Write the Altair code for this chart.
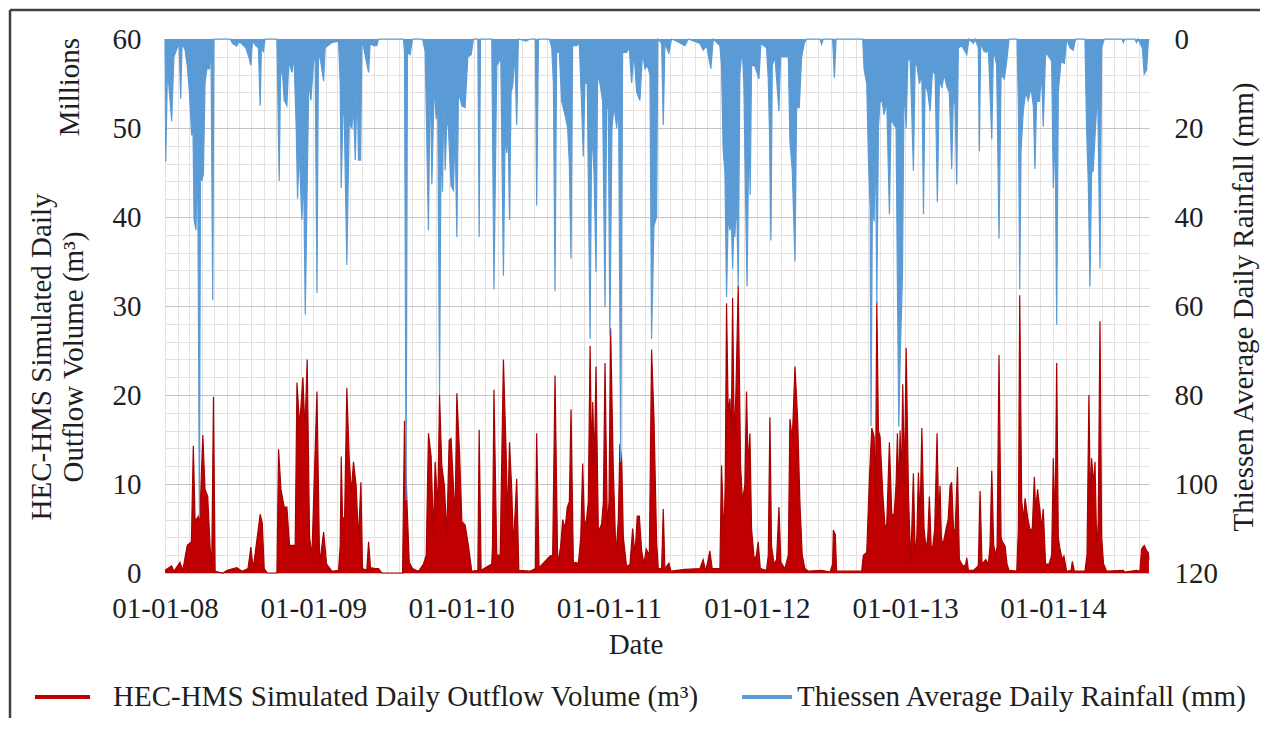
import altair as alt
import pandas as pd
from datetime import datetime

# ---------------- data ----------------
# time positions are decimal years
flow_t = [2008.000, 2008.045, 2008.060, 2008.101, 2008.120, 2008.150, 2008.178, 2008.191, 2008.203, 2008.218,
          2008.236, 2008.255, 2008.270, 2008.288, 2008.304, 2008.315, 2008.327, 2008.338, 2008.390, 2008.420,
          2008.484, 2008.520, 2008.560, 2008.579, 2008.595, 2008.642, 2008.656, 2008.669, 2008.690, 2008.755,
          2008.766, 2008.782, 2008.804, 2008.822, 2008.840, 2008.856, 2008.878, 2008.890, 2008.908, 2008.930,
          2008.944, 2008.959, 2008.975, 2008.991, 2009.025, 2009.043, 2009.070, 2009.090, 2009.126, 2009.171,
          2009.182, 2009.189, 2009.198, 2009.212, 2009.227, 2009.243, 2009.257, 2009.272, 2009.290, 2009.306,
          2009.322, 2009.333, 2009.362, 2009.374, 2009.387, 2009.419, 2009.441, 2009.464, 2009.604, 2009.617,
          2009.633, 2009.649, 2009.671, 2009.712, 2009.745, 2009.764, 2009.779, 2009.797, 2009.813, 2009.824,
          2009.842, 2009.854, 2009.869, 2009.887, 2009.903, 2009.919, 2009.932, 2009.948, 2009.959, 2009.971,
          2009.989, 2010.005, 2010.027, 2010.050, 2010.072, 2010.113, 2010.122, 2010.135, 2010.207, 2010.212,
          2010.222, 2010.241, 2010.264, 2010.286, 2010.304, 2010.315, 2010.327, 2010.342, 2010.354, 2010.376,
          2010.390, 2010.466, 2010.502, 2010.511, 2010.527, 2010.601, 2010.619, 2010.635, 2010.653, 2010.673,
          2010.687, 2010.703, 2010.718, 2010.732, 2010.743, 2010.759, 2010.793, 2010.809, 2010.822, 2010.833,
          2010.844, 2010.860, 2010.872, 2010.883, 2010.890, 2010.901, 2010.912, 2010.928, 2010.950, 2010.962,
          2010.973, 2010.989, 2011.000, 2011.011, 2011.029, 2011.047, 2011.063, 2011.074, 2011.086, 2011.097,
          2011.119, 2011.142, 2011.160, 2011.176, 2011.191, 2011.205, 2011.221, 2011.236, 2011.252, 2011.273,
          2011.288, 2011.304, 2011.322, 2011.333, 2011.356, 2011.367, 2011.378, 2011.405, 2011.419, 2011.514,
          2011.615, 2011.637, 2011.653, 2011.671, 2011.682, 2011.698, 2011.750, 2011.761, 2011.777, 2011.786,
          2011.795, 2011.806, 2011.818, 2011.827, 2011.836, 2011.847, 2011.858, 2011.874, 2011.890, 2011.903,
          2011.919, 2011.930, 2011.941, 2011.953, 2011.964, 2011.982, 2011.997, 2012.009, 2012.023, 2012.065,
          2012.077, 2012.088, 2012.099, 2012.117, 2012.133, 2012.149, 2012.162, 2012.189, 2012.212, 2012.223,
          2012.239, 2012.257, 2012.275, 2012.291, 2012.306, 2012.324, 2012.347, 2012.437, 2012.493, 2012.511,
          2012.516, 2012.529, 2012.538, 2012.707, 2012.718, 2012.741, 2012.759, 2012.775, 2012.791, 2012.800,
          2012.809, 2012.820, 2012.831, 2012.849, 2012.865, 2012.876, 2012.894, 2012.910, 2012.926, 2012.939,
          2012.948, 2012.957, 2012.966, 2012.975, 2012.984, 2012.995, 2013.007, 2013.023, 2013.038, 2013.056,
          2013.068, 2013.079, 2013.090, 2013.101, 2013.113, 2013.128, 2013.142, 2013.153, 2013.164, 2013.176,
          2013.185, 2013.200, 2013.216, 2013.227, 2013.236, 2013.245, 2013.255, 2013.266, 2013.277, 2013.291,
          2013.304, 2013.315, 2013.327, 2013.338, 2013.354, 2013.367, 2013.394, 2013.410, 2013.417, 2013.428,
          2013.462, 2013.495, 2013.507, 2013.520, 2013.545, 2013.563, 2013.574, 2013.586, 2013.599, 2013.613,
          2013.622, 2013.635, 2013.649, 2013.658, 2013.676, 2013.689, 2013.703, 2013.755, 2013.766, 2013.775,
          2013.788, 2013.802, 2013.811, 2013.829, 2013.845, 2013.860, 2013.874, 2013.883, 2013.896, 2013.912,
          2013.923, 2013.934, 2013.950, 2013.973, 2013.991, 2014.002, 2014.014, 2014.025, 2014.036, 2014.047,
          2014.063, 2014.074, 2014.092, 2014.122, 2014.131, 2014.144, 2014.216, 2014.230, 2014.243, 2014.252,
          2014.261, 2014.275, 2014.284, 2014.297, 2014.306, 2014.318, 2014.329, 2014.342, 2014.363, 2014.475,
          2014.486, 2014.565, 2014.588, 2014.599, 2014.617, 2014.633, 2014.644, 2014.649]
flow_v = [0.3, 0.8, 0.2, 1.2, 0.3, 3.1, 3.5, 14.3, 5.8, 6.2,
          6.6, 15.5, 9.4, 8.6, 3.0, 0.5, 19.8, 0.2, 0.0, 0.3,
          0.6, 0.2, 0.5, 2.9, 0.5, 6.6, 5.6, 0.5, 0.0, 0.0,
          13.9, 9.4, 7.4, 7.4, 3.1, 3.1, 3.1, 21.4, 16.5, 22.0,
          16.0, 24.0, 4.0, 2.0, 20.4, 1.0, 4.6, 1.0, 0.2, 0.3,
          3.0, 13.1, 6.2, 6.2, 20.8, 12.9, 9.0, 12.5, 9.8, 3.8,
          10.2, 0.5, 0.3, 3.5, 0.6, 0.5, 0.5, 0.0, 0.0, 17.1,
          8.2, 1.2, 0.5, 0.2, 1.0, 2.0, 15.7, 13.1, 4.3, 12.5,
          7.4, 20.0, 12.1, 9.8, 4.3, 14.9, 15.1, 9.8, 6.0, 20.2,
          13.5, 5.8, 5.4, 3.0, 0.2, 0.3, 16.1, 0.3, 1.0, 3.0,
          20.6, 2.0, 2.0, 24.0, 13.7, 6.0, 14.7, 9.4, 3.0, 10.6,
          0.3, 0.2, 0.5, 15.7, 0.6, 1.9, 2.0, 22.2, 1.0, 3.0,
          6.0, 5.0, 7.4, 8.0, 18.4, 1.2, 1.1, 4.0, 12.3, 6.0,
          5.4, 8.0, 25.5, 12.0, 19.2, 12.0, 23.2, 4.6, 5.5, 8.0,
          23.6, 5.0, 8.0, 27.5, 11.7, 2.0, 6.0, 14.5, 12.5, 4.0,
          0.7, 1.0, 5.0, 2.0, 6.4, 6.4, 2.5, 1.0, 2.7, 2.0,
          25.1, 17.5, 3.5, 0.5, 0.5, 7.2, 0.5, 1.1, 0.2, 0.4,
          0.5, 1.5, 0.2, 1.5, 2.5, 0.5, 0.5, 12.1, 4.0, 10.0,
          30.3, 18.0, 19.6, 15.0, 30.9, 15.0, 20.0, 32.3, 12.0, 8.0,
          10.0, 20.4, 12.0, 15.7, 5.0, 1.5, 2.0, 3.5, 0.5, 0.3,
          2.0, 17.5, 3.0, 1.0, 1.5, 7.4, 1.2, 0.5, 2.0, 17.3,
          15.0, 23.2, 17.3, 7.6, 2.0, 0.5, 0.2, 0.3, 0.1, 1.0,
          4.8, 4.3, 0.2, 0.2, 2.0, 2.3, 10.6, 16.3, 15.3, 8.0,
          30.5, 16.0, 15.3, 9.0, 5.0, 5.5, 14.7, 6.6, 6.6, 10.0,
          15.7, 9.0, 16.0, 10.0, 21.2, 10.0, 25.3, 8.6, 1.0, 11.2,
          2.0, 4.0, 11.3, 6.0, 16.3, 5.0, 2.7, 4.0, 8.6, 3.0,
          2.7, 5.0, 15.7, 6.0, 9.8, 4.0, 3.1, 4.0, 5.0, 6.0,
          9.8, 10.2, 5.0, 4.6, 11.9, 1.5, 0.7, 1.0, 1.7, 0.3,
          0.3, 0.8, 9.2, 1.0, 1.5, 1.0, 3.0, 11.5, 3.1, 2.0,
          3.0, 24.5, 4.0, 3.5, 3.0, 1.0, 0.3, 0.2, 5.0, 31.2,
          8.2, 6.0, 8.4, 6.2, 4.8, 5.0, 10.8, 7.0, 9.4, 7.0,
          5.0, 7.2, 1.0, 1.0, 2.0, 12.9, 5.0, 23.6, 4.0, 2.7,
          1.5, 1.9, 0.2, 0.3, 1.3, 0.2, 0.2, 2.0, 20.0, 8.0,
          12.9, 10.0, 12.5, 2.0, 6.0, 28.3, 4.0, 1.0, 0.2, 0.3,
          0.1, 0.3, 0.2, 2.7, 3.1, 2.5, 2.3, 1.5]

rain_t = [2008.000, 2008.005, 2008.016, 2008.025, 2008.045, 2008.060, 2008.083, 2008.095, 2008.106, 2008.115,
          2008.135, 2008.150, 2008.165, 2008.180, 2008.188, 2008.196, 2008.209, 2008.220, 2008.232, 2008.240,
          2008.248, 2008.259, 2008.270, 2008.282, 2008.300, 2008.310, 2008.322, 2008.330, 2008.440, 2008.455,
          2008.484, 2008.500, 2008.545, 2008.565, 2008.579, 2008.590, 2008.615, 2008.630, 2008.642, 2008.650,
          2008.664, 2008.675, 2008.755, 2008.770, 2008.780, 2008.795, 2008.804, 2008.822, 2008.835, 2008.856,
          2008.870, 2008.885, 2008.894, 2008.905, 2008.923, 2008.935, 2008.946, 2008.957, 2008.970, 2008.984,
          2009.000, 2009.012, 2009.025, 2009.035, 2009.050, 2009.070, 2009.080, 2009.126, 2009.171, 2009.182,
          2009.189, 2009.200, 2009.209, 2009.227, 2009.243, 2009.261, 2009.272, 2009.284, 2009.297, 2009.306,
          2009.320, 2009.329, 2009.374, 2009.385, 2009.407, 2009.430, 2009.441, 2009.610, 2009.617, 2009.628,
          2009.637, 2009.655, 2009.671, 2009.739, 2009.757, 2009.779, 2009.791, 2009.802, 2009.818, 2009.831,
          2009.842, 2009.854, 2009.865, 2009.874, 2009.883, 2009.892, 2009.903, 2009.914, 2009.932, 2009.948,
          2009.959, 2009.971, 2009.982, 2010.005, 2010.027, 2010.045, 2010.068, 2010.083, 2010.113, 2010.122,
          2010.131, 2010.207, 2010.222, 2010.241, 2010.252, 2010.268, 2010.286, 2010.297, 2010.309, 2010.318,
          2010.327, 2010.338, 2010.349, 2010.363, 2010.376, 2010.387, 2010.439, 2010.466, 2010.502, 2010.511,
          2010.523, 2010.597, 2010.613, 2010.624, 2010.635, 2010.646, 2010.664, 2010.680, 2010.691, 2010.709,
          2010.720, 2010.732, 2010.743, 2010.754, 2010.781, 2010.799, 2010.815, 2010.826, 2010.837, 2010.853,
          2010.872, 2010.883, 2010.899, 2010.912, 2010.923, 2010.939, 2010.957, 2010.973, 2010.984, 2010.995,
          2011.006, 2011.020, 2011.034, 2011.052, 2011.065, 2011.079, 2011.092, 2011.119, 2011.137, 2011.153,
          2011.169, 2011.187, 2011.209, 2011.227, 2011.243, 2011.259, 2011.277, 2011.288, 2011.304, 2011.322,
          2011.330, 2011.356, 2011.367, 2011.378, 2011.405, 2011.423, 2011.457, 2011.514, 2011.536, 2011.615,
          2011.637, 2011.660, 2011.689, 2011.705, 2011.750, 2011.761, 2011.772, 2011.784, 2011.795, 2011.806,
          2011.818, 2011.827, 2011.836, 2011.845, 2011.851, 2011.863, 2011.874, 2011.885, 2011.901, 2011.912,
          2011.923, 2011.934, 2011.946, 2011.955, 2011.964, 2011.986, 2012.014, 2012.027, 2012.065, 2012.077,
          2012.086, 2012.095, 2012.104, 2012.122, 2012.149, 2012.160, 2012.189, 2012.212, 2012.223, 2012.239,
          2012.257, 2012.268, 2012.286, 2012.302, 2012.320, 2012.335, 2012.425, 2012.437, 2012.448, 2012.511,
          2012.523, 2012.534, 2012.714, 2012.723, 2012.741, 2012.752, 2012.764, 2012.770, 2012.779, 2012.791,
          2012.800, 2012.809, 2012.820, 2012.831, 2012.845, 2012.858, 2012.876, 2012.894, 2012.905, 2012.926,
          2012.939, 2012.948, 2012.957, 2012.968, 2012.982, 2012.993, 2013.007, 2013.018, 2013.034, 2013.056,
          2013.068, 2013.079, 2013.097, 2013.113, 2013.124, 2013.135, 2013.153, 2013.169, 2013.185, 2013.203,
          2013.218, 2013.232, 2013.248, 2013.264, 2013.281, 2013.299, 2013.315, 2013.327, 2013.338, 2013.349,
          2013.360, 2013.383, 2013.417, 2013.432, 2013.462, 2013.473, 2013.495, 2013.502, 2013.511, 2013.534,
          2013.552, 2013.563, 2013.586, 2013.597, 2013.619, 2013.635, 2013.649, 2013.671, 2013.687, 2013.703,
          2013.757, 2013.766, 2013.775, 2013.784, 2013.799, 2013.815, 2013.833, 2013.851, 2013.867, 2013.878,
          2013.889, 2013.907, 2013.923, 2013.934, 2013.950, 2013.973, 2013.991, 2014.002, 2014.014, 2014.025,
          2014.036, 2014.054, 2014.077, 2014.093, 2014.115, 2014.137, 2014.153, 2014.216, 2014.227, 2014.239,
          2014.250, 2014.261, 2014.272, 2014.284, 2014.302, 2014.318, 2014.329, 2014.347, 2014.468, 2014.475,
          2014.486, 2014.554, 2014.565, 2014.576, 2014.604, 2014.617, 2014.633, 2014.644, 2014.649]
rain_v = [0.0, 27.6, 8.0, 10.0, 18.5, 4.0, 2.0, 1.0, 13.4, 1.0,
          2.4, 6.0, 12.0, 21.7, 18.0, 40.6, 42.9, 25.0, 107.6, 25.0,
          31.9, 30.3, 10.0, 6.7, 6.7, 1.0, 58.7, 0.0, 0.0, 1.0,
          1.6, 0.5, 2.0, 4.0, 5.9, 0.5, 1.6, 2.0, 15.0, 2.0,
          2.8, 0.0, 0.0, 31.9, 6.0, 9.0, 13.8, 15.0, 5.0, 7.5,
          4.0, 20.0, 35.9, 25.0, 40.6, 30.0, 61.9, 37.4, 9.0, 13.8,
          6.0, 2.0, 57.1, 3.0, 5.0, 9.5, 2.0, 0.8, 0.5, 10.0,
          33.5, 17.0, 16.5, 50.8, 19.0, 20.0, 15.0, 27.2, 10.0, 27.2,
          27.2, 0.0, 7.5, 1.0, 1.5, 1.5, 0.0, 0.0, 3.0, 103.6,
          3.0, 3.5, 0.0, 0.0, 2.8, 43.0, 6.0, 32.7, 10.0, 18.0,
          15.0, 80.0, 20.0, 34.3, 12.0, 29.5, 18.0, 20.0, 33.0, 34.0,
          20.0, 44.5, 12.0, 15.0, 15.4, 4.0, 3.5, 0.0, 0.0, 44.5,
          0.0, 0.0, 56.3, 6.0, 5.5, 4.0, 53.2, 22.0, 25.6, 20.0,
          40.6, 12.0, 10.6, 3.0, 19.3, 0.0, 0.5, 0.0, 0.0, 37.4,
          0.0, 0.0, 2.0, 10.0, 56.7, 3.0, 3.0, 14.0, 15.5, 18.0,
          20.0, 28.0, 49.3, 1.5, 1.5, 1.0, 15.0, 26.4, 10.0, 10.0,
          67.4, 20.0, 30.0, 52.4, 8.0, 10.0, 14.0, 60.3, 15.0, 15.8,
          66.6, 20.0, 15.0, 20.0, 15.0, 95.0, 3.0, 3.0, 2.0, 9.9,
          3.0, 12.0, 13.8, 3.0, 6.7, 6.0, 8.0, 67.4, 42.0, 40.0,
          0.0, 1.0, 19.3, 1.0, 3.2, 0.0, 0.5, 1.5, 0.0, 1.0,
          2.5, 1.5, 6.7, 0.0, 1.5, 6.0, 24.8, 30.0, 58.0, 40.0,
          43.0, 40.0, 51.6, 42.0, 44.5, 35.9, 55.6, 8.0, 2.0, 10.0,
          35.0, 55.6, 20.0, 35.0, 6.0, 6.0, 9.0, 1.0, 2.0, 9.0,
          22.0, 45.3, 6.0, 4.0, 16.2, 4.0, 4.0, 4.0, 23.0, 29.6,
          50.0, 15.4, 15.4, 4.0, 1.0, 0.0, 0.0, 1.2, 0.0, 0.0,
          8.7, 0.0, 0.0, 6.7, 10.0, 26.4, 38.0, 87.0, 38.0, 41.0,
          20.0, 59.5, 20.0, 14.0, 14.0, 17.0, 14.0, 39.4, 18.0, 19.3,
          20.0, 55.0, 87.1, 70.0, 53.2, 10.0, 20.0, 5.0, 4.3, 29.6,
          5.0, 5.9, 10.0, 8.0, 39.4, 10.0, 12.0, 16.2, 7.0, 8.0,
          36.6, 9.0, 11.0, 8.0, 10.6, 12.0, 29.2, 12.0, 15.0, 32.7,
          2.0, 1.5, 3.5, 0.0, 1.0, 0.0, 2.0, 25.2, 1.0, 2.8,
          3.0, 2.0, 22.5, 2.0, 6.0, 44.9, 8.0, 9.0, 5.0, 0.0,
          0.0, 15.0, 56.3, 25.0, 16.2, 12.0, 13.8, 11.0, 15.0, 29.2,
          14.0, 14.0, 8.0, 19.7, 3.0, 4.0, 5.0, 33.5, 20.0, 64.2,
          12.0, 5.0, 5.5, 0.0, 2.0, 2.5, 0.0, 0.0, 20.0, 32.7,
          55.6, 30.0, 29.6, 22.0, 11.4, 51.6, 2.0, 0.0, 0.0, 0.8,
          0.0, 0.0, 0.8, 0.0, 2.0, 7.9, 7.0, 1.0, 0.0]

flow_y_ticks = list(range(0, 61, 2))
rain_y_ticks = [0, 20, 40, 60, 80, 100, 120]

flow_name = "HEC-HMS Simulated Daily Outflow Volume (m³)"
rain_name = "Thiessen Average Daily Rainfall (mm)"
left_title = ["HEC-HMS Simulated Daily", "Outflow Volume (m³)"]


def to_iso(t):
    y = int(t)
    a = datetime(y, 1, 1)
    b = datetime(y + 1, 1, 1)
    return (a + (b - a) * (t - y)).strftime("%Y-%m-%dT%H:%M:%SZ")


flow_df = pd.DataFrame({"date": [to_iso(t) for t in flow_t], "flow": flow_v})
rain_df = pd.DataFrame({"date": [to_iso(t) for t in rain_t], "rain": rain_v})

FONT = "Liberation Serif, Times New Roman, DejaVu Serif, serif"
FS = 29
TXT = "#1e1e1e"
RED = "#C00000"
BLUE = "#5B9BD5"
MINOR = "#e6e1e1"
MAJOR = "#c4c4c4"

x_enc = alt.X(
    "date:T",
    scale=alt.Scale(
        type="utc",
        domain=[alt.DateTime(year=2008, month=1, date=1, utc=True),
                alt.DateTime(year=2014, month=8, date=26, utc=True)],
    ),
    axis=alt.Axis(
        title=None,
        tickCount={"interval": "month", "step": 1},
        labelExpr="utcmonth(datum.value) == 0 ? utcFormat(datum.value, '%m-%d-%y') : ''",
        labelOverlap=False,
        labelFlush=False,
        ticks=False,
        domain=False,
        gridColor=MINOR,
        labelFont=FONT,
        labelFontSize=FS,
        labelColor=TXT,
        labelPadding=21,
    ),
)

red = alt.Chart(flow_df).mark_area(
    color=RED, opacity=1, line={"color": "#A80000", "strokeWidth": 1.2}
).encode(
    x=x_enc,
    y=alt.Y(
        "flow:Q",
        scale=alt.Scale(domain=[0, 60], nice=False),
        axis=alt.Axis(
            title=None,
            values=flow_y_ticks,
            labelExpr="datum.value % 10 == 0 ? datum.label : ''",
            gridColor={"condition": {"test": "datum.value % 10 == 0", "value": MAJOR}, "value": MINOR},
            ticks=False,
            domain=False,
            labelFlush=False,
            labelOverlap=False,
            labelFont=FONT,
            labelFontSize=FS,
            labelColor=TXT,
            labelPadding=24,
        ),
    ),
)

blue = alt.Chart(rain_df).mark_area(
    color=BLUE, opacity=1, line={"color": BLUE, "strokeWidth": 1.2}
).encode(
    x=x_enc,
    y=alt.Y(
        "rain:Q",
        scale=alt.Scale(domain=[0, 120], reverse=True, nice=False),
        axis=alt.Axis(
            orient="right",
            title=None,
            values=rain_y_ticks,
            grid=False,
            ticks=False,
            domain=False,
            labelFlush=False,
            labelFont=FONT,
            labelFontSize=FS,
            labelColor=TXT,
            labelPadding=25,
        ),
    ),
)

one = alt.Data(values=[{"k": 1}])


def txt(s, x, y, angle=0, align="center"):
    return alt.Chart(one).mark_text(
        text=s, font=FONT, fontSize=FS, angle=angle, align=align,
        baseline="middle", color=TXT
    ).encode(x=alt.value(x), y=alt.value(y))


def rule(x, y, x2, y2, color, w):
    return alt.Chart(one).mark_rule(color=color, strokeWidth=w).encode(
        x=alt.value(x), y=alt.value(y), x2=alt.value(x2), y2=alt.value(y2)
    )


decor = [
    txt("Millions", -95, 48, angle=270),
    txt(left_title[0], -123, 318, angle=270),
    txt(left_title[1], -91, 318, angle=270),
    txt(rain_name, 1079, 268, angle=270),
    txt("Date", 471, 606),
    rule(-130, 658, -75, 658, RED, 4),
    txt(flow_name, -52, 658, align="left"),
    rule(577, 658, 627, 658, BLUE, 4),
    txt(rain_name, 632, 658, align="left"),
    rule(-155, -29, -155, 700, "#404040", 2.5),
    rule(-155, -29, 1120, -29, "#404040", 2.5),
]

chart = alt.layer(red, blue, *decor).resolve_scale(y="independent").properties(
    width=984,
    height=534,
    autosize=alt.AutoSizeParams(type="none"),
    padding={"left": 157, "top": 31, "right": 111, "bottom": 145},
    background="white",
).configure_view(stroke=None)

chart.save("out.html", embed_options={"renderer": "svg", "actions": False})
